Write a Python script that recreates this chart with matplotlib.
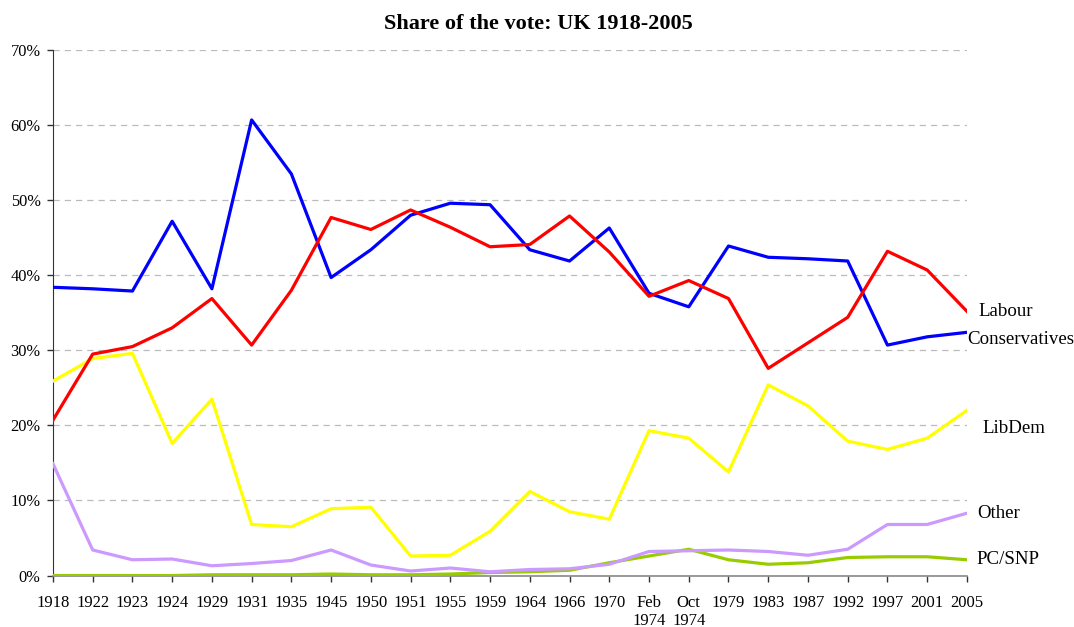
import matplotlib
matplotlib.use("Agg")
import matplotlib.pyplot as plt
from matplotlib.ticker import FuncFormatter

plt.rcParams['font.family'] = ['Liberation Serif', 'DejaVu Serif']

# election years (x categories)
years = ['1918', '1922', '1923', '1924', '1929', '1931', '1935', '1945', '1950',
         '1951', '1955', '1959', '1964', '1966', '1970', 'Feb\n1974', 'Oct\n1974',
         '1979', '1983', '1987', '1992', '1997', '2001', '2005']

# share of the vote, percent
conservatives = [38.4, 38.2, 37.9, 47.2, 38.2, 60.7, 53.5, 39.7, 43.4, 48.0, 49.6, 49.4,
                 43.4, 41.9, 46.3, 37.6, 35.8, 43.9, 42.4, 42.2, 41.9, 30.7, 31.8, 32.4]
labour = [20.7, 29.5, 30.5, 33.0, 36.9, 30.7, 38.0, 47.7, 46.1, 48.7, 46.4, 43.8,
          44.1, 47.9, 43.1, 37.2, 39.3, 36.9, 27.6, 31.0, 34.4, 43.2, 40.7, 35.2]
libdem = [25.9, 28.9, 29.6, 17.6, 23.5, 6.8, 6.5, 8.9, 9.1, 2.6, 2.7, 5.9,
          11.2, 8.5, 7.5, 19.3, 18.3, 13.8, 25.4, 22.6, 17.9, 16.8, 18.3, 22.0]
other = [14.9, 3.4, 2.1, 2.2, 1.3, 1.6, 2.0, 3.4, 1.4, 0.6, 1.0, 0.5,
         0.8, 0.9, 1.5, 3.2, 3.3, 3.4, 3.2, 2.7, 3.5, 6.8, 6.8, 8.3]
pc_snp = [0.0, 0.0, 0.0, 0.0, 0.1, 0.1, 0.1, 0.2, 0.1, 0.1, 0.2, 0.4,
          0.5, 0.7, 1.7, 2.6, 3.5, 2.1, 1.5, 1.7, 2.4, 2.5, 2.5, 2.1]

fig = plt.figure(figsize=(10.74, 6.27), dpi=100)
ax = fig.add_axes([0.0493, 0.0821, 0.851, 0.838])

x = list(range(len(years)))
lw = 2.3
ax.plot(x, pc_snp, color='#99CC00', lw=lw, zorder=3)
ax.plot(x, other, color='#CC99FF', lw=lw, zorder=3)
ax.plot(x, libdem, color='#FFFF00', lw=lw, zorder=3)
ax.plot(x, conservatives, color='#0000FF', lw=lw, zorder=3)
ax.plot(x, labour, color='#FF0000', lw=lw, zorder=3)

# series labels at right end
fs = 13.6
ax.text(23.28, labour[-1], 'Labour', fontsize=fs, va='center', ha='left')
ax.text(23.0, conservatives[-1] - 1.0, 'Conservatives', fontsize=fs, va='center', ha='left')
ax.text(23.4, libdem[-1] - 2.4, 'LibDem', fontsize=fs, va='center', ha='left')
ax.text(23.25, other[-1], 'Other', fontsize=fs, va='center', ha='left')
ax.text(23.25, pc_snp[-1] + 0.1, 'PC/SNP', fontsize=fs, va='center', ha='left')

ax.set_xlim(0, 23)
ax.set_ylim(0, 70)
ax.set_xticks(x)
ax.set_xticklabels(years, fontsize=12, linespacing=1.15)
ax.set_yticks(range(0, 71, 10))
ax.yaxis.set_major_formatter(FuncFormatter(lambda v, p: f'{int(v)}%'))
ax.tick_params(axis='y', labelsize=11.8, length=4, width=1, pad=5, color='#333333')
ax.tick_params(axis='x', length=4, width=1, pad=10, color='#333333')

ax.grid(axis='y', linestyle=(0, (5, 4)), color='#BBBBBB', lw=0.9)
ax.set_axisbelow(True)
for s in ['top', 'right']:
    ax.spines[s].set_visible(False)
ax.spines['left'].set_color('#333333')
ax.spines['bottom'].set_color('#888888')
ax.spines['bottom'].set_linewidth(1.2)

fig.text(0.501, 0.962, 'Share of the vote: UK 1918-2005', fontsize=16,
         fontweight='bold', ha='center', va='center')

fig.savefig('out.png', dpi=100)
